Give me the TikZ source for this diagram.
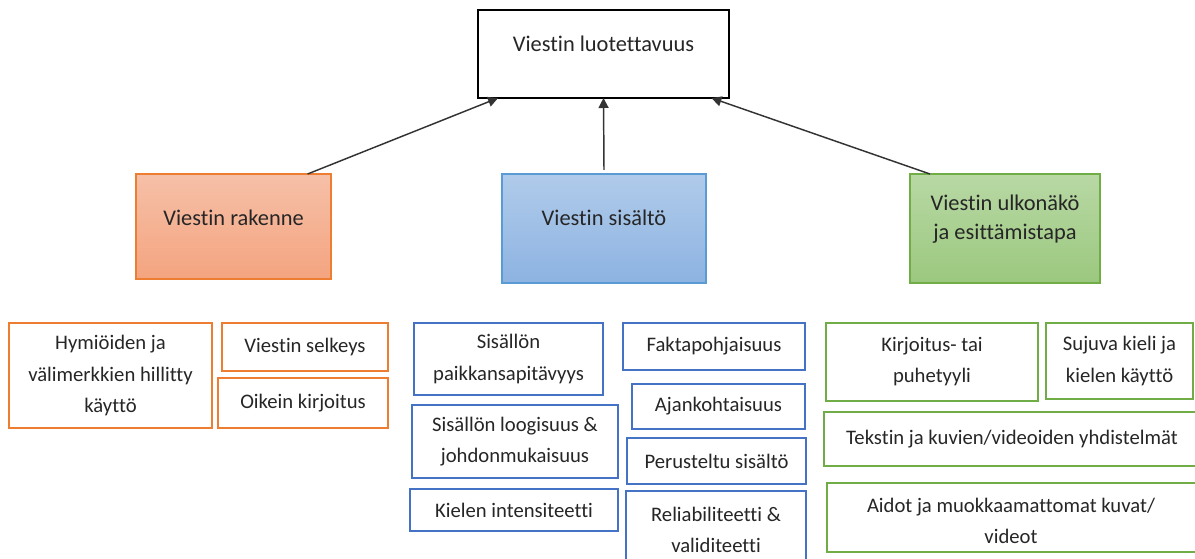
\documentclass[tikz,border=0pt]{standalone}
\usepackage{fontspec}
\setmainfont[Ligatures={NoCommon}]{Carlito}
\usetikzlibrary{arrows.meta,calc}

\definecolor{orline}{HTML}{ED7D31}
\definecolor{ortop}{HTML}{F6C0A8}
\definecolor{orbot}{HTML}{F4A47F}
\definecolor{blline}{HTML}{5B9BD5}
\definecolor{bltop}{HTML}{B0CBEA}
\definecolor{blbot}{HTML}{8DB3E2}
\definecolor{bldark}{HTML}{4472C4}
\definecolor{grline}{HTML}{70AD47}
\definecolor{grtop}{HTML}{B8D8A4}
\definecolor{grbot}{HTML}{9BC87F}

% place a box by its pixel corners: name, x1, y1, x2, y2, style, text
\newcommand\boxat[7]{%
  \node[#6, minimum width={(#4-#2)*0.75pt}, minimum height={(#5-#3)*0.75pt}]
    (#1) at ({(#2+#4)/2},{(#3+#5)/2}) {#7};}

\tikzset{
  every node/.style={inner sep=0pt, outer sep=0pt, align=center, text=black!85},
  bigfont/.style={font=\fontsize{16.8pt}{21.75pt}\selectfont},
  smallfont/.style={font=\fontsize{15.5pt}{23.3pt}\selectfont},
  topbox/.style={draw=black, line width=2.2pt, fill=white},
  mainor/.style={draw=orline, line width=0.8pt, top color=ortop, bottom color=orbot},
  mainbl/.style={draw=blline, line width=0.8pt, top color=bltop, bottom color=blbot},
  maingr/.style={draw=grline, line width=0.8pt, top color=grtop, bottom color=grbot},
  orbox/.style={draw=orline, line width=1.8pt, fill=white, smallfont},
  blbox/.style={draw=bldark, line width=1.8pt, fill=white, smallfont},
  grbox/.style={draw=grline, line width=1.8pt, fill=white, smallfont},
  link/.style={draw=black!80, line width=1.1pt, -{Triangle[length=7.5pt,width=7.5pt]}}
}

\begin{document}
\begin{tikzpicture}[x=0.75pt,y=-0.75pt]
\useasboundingbox (0,0) rectangle (1195,559);

% top level
\boxat{top}{478}{10}{729}{98}{topbox}{}
\node[bigfont] (toptext) at (603.5,44) {Viestin luotettavuus};

% three main groups
\boxat{rak}{136}{174}{331}{279}{mainor}{}
\node[bigfont] (raktext) at (233.5,217.5) {Viestin rakenne};
\boxat{sis}{502}{174}{706}{283}{mainbl}{}
\node[bigfont] (sistext) at (604,218) {Viestin sisältö};
\boxat{ulk}{910}{174}{1100}{283}{maingr}{}
\node[bigfont] (ulktext) at (1005,219) {Viestin ulkonäkö\\ja esittämistapa};

% connectors to the top box
\draw[link] ($(rak.north west)!0.88!(rak.north east)$) -- ($(top.south west)!0.08!(top.south east)$);
\draw[link] ($(sis.north)+(0,-4)$) -- (top.south);
\draw[link] ($(ulk.north west)!0.105!(ulk.north east)$) -- ($(top.south west)!0.93!(top.south east)$);

% structure items
\boxat{hym}{9}{323}{212}{428}{orbox}{Hymiöiden ja\\välimerkkien hillitty\\käyttö}
\boxat{sel}{222}{323}{388}{371}{orbox}{Viestin selkeys}
\boxat{oik}{218}{378}{388}{428}{orbox}{Oikein kirjoitus}

% content items
\boxat{paik}{414}{323}{603}{395}{blbox}{Sisällön\\paikkansapitävyys}
\boxat{loog}{412}{405}{618}{478}{blbox}{Sisällön loogisuus \&\\johdonmukaisuus}
\boxat{int}{410}{489}{618}{531}{blbox}{Kielen intensiteetti}
\boxat{fakt}{623}{323}{805}{370}{blbox}{Faktapohjaisuus}
\boxat{ajan}{632}{384}{805}{429}{blbox}{Ajankohtaisuus}
\boxat{peru}{627}{438}{806}{484}{blbox}{Perusteltu sisältö}
\boxat{reli}{626}{491}{806}{569}{blbox}{Reliabiliteetti \&\\validiteetti}

% appearance items
\boxat{kirj}{826}{323}{1038}{401}{grbox}{Kirjoitus- tai\\puhetyyli}
\boxat{suju}{1046}{323}{1193}{399}{grbox}{Sujuva kieli ja\\kielen käyttö}
\boxat{teks}{824}{412}{1202}{466}{grbox}{}
\node[smallfont] (tekstext) at (1012,439) {Tekstin ja kuvien/videoiden yhdistelmät};
\boxat{aid}{827}{483}{1202}{552}{grbox}{}
\node[smallfont] (aidtext) at (1011,521) {Aidot ja muokkaamattomat kuvat/\\videot};
\end{tikzpicture}
\end{document}
